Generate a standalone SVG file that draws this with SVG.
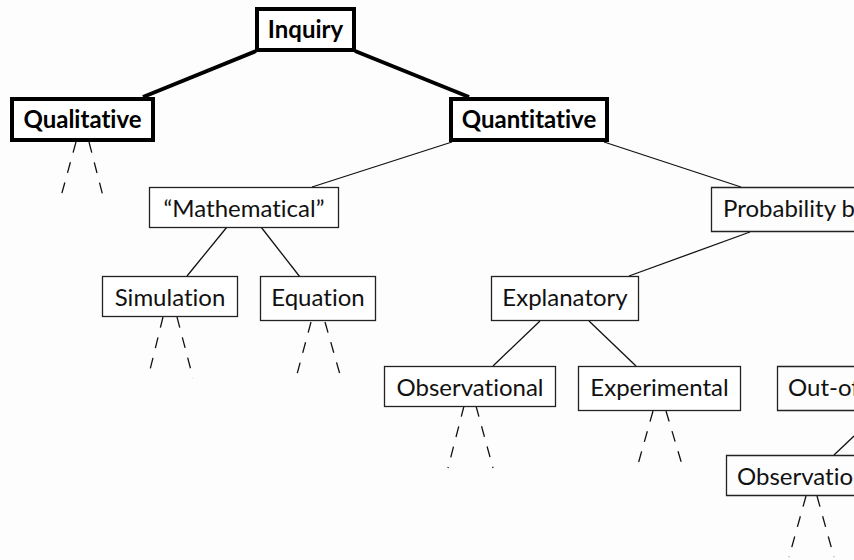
<svg xmlns="http://www.w3.org/2000/svg" width="854" height="560" viewBox="0 0 854 560">
<style>
.bg{fill:#fdfdfd}
.thick{fill:#fff;stroke:#000;stroke-width:4}
.thin{fill:#fff;stroke:#222;stroke-width:1.3}
.open{fill:none;stroke:#222;stroke-width:1.3}
.lt{fill:none;stroke:#000;stroke-width:4}
.ln{fill:none;stroke:#111;stroke-width:1.3}
.dash{fill:none;stroke:#111;stroke-width:1.3;stroke-dasharray:11 10}
text{font-family:Lato,"Open Sans","Liberation Sans",sans-serif;font-size:24px;fill:#111;font-variant-ligatures:none;font-feature-settings:"liga" 0,"clig" 0}
.b{font-weight:bold;fill:#000}
.c{text-anchor:middle}
</style>
<rect class="bg" x="0" y="0" width="854" height="560"/>
<g id="connectors">
<line class="lt" x1="256" y1="51" x2="143" y2="97"/>
<line class="lt" x1="355" y1="51" x2="469" y2="97"/>
<line class="ln" x1="452" y1="142" x2="312" y2="187"/>
<line class="ln" x1="604" y1="142" x2="741" y2="187"/>
<line class="ln" x1="227" y1="227" x2="187" y2="276"/>
<line class="ln" x1="261" y1="227" x2="300" y2="277"/>
<line class="ln" x1="750" y1="232" x2="629" y2="276"/>
<line class="ln" x1="540" y1="321" x2="493" y2="366"/>
<line class="ln" x1="589" y1="321" x2="636" y2="366"/>
<line class="ln" x1="854" y1="436" x2="834" y2="455"/>
<line class="dash" x1="76" y1="142" x2="60" y2="200"/>
<line class="dash" x1="89" y1="142" x2="104" y2="200"/>
<line class="dash" x1="163" y1="317" x2="148" y2="378"/>
<line class="dash" x1="177" y1="317" x2="193" y2="378"/>
<line class="dash" x1="311" y1="322" x2="296" y2="378"/>
<line class="dash" x1="325" y1="322" x2="341" y2="378"/>
<line class="dash" x1="464" y1="406" x2="448" y2="468"/>
<line class="dash" x1="476" y1="406" x2="493" y2="468"/>
<line class="dash" x1="653" y1="411" x2="637" y2="468"/>
<line class="dash" x1="666" y1="411" x2="683" y2="468"/>
<line class="dash" x1="806" y1="496" x2="789" y2="557"/>
<line class="dash" x1="817" y1="496" x2="834" y2="557"/>
</g>
<g id="inquiry"><rect class="thick" x="257" y="9" width="97" height="41"/><text class="b c" x="305.5" y="38">Inquiry</text></g>
<g id="qualitative"><rect class="thick" x="12" y="99" width="141" height="41"/><text class="b c" x="82.5" y="128">Qualitative</text></g>
<g id="quantitative"><rect class="thick" x="451" y="99" width="156" height="41"/><text class="b c" x="529" y="128">Quantitative</text></g>
<g id="mathematical"><rect class="thin" x="149.5" y="187.5" width="189" height="40"/><text class="c" x="244" y="217">“Mathematical”</text></g>
<g id="probability"><path class="open" d="M854 187.5H711.5V231.5H854"/><text x="723" y="217">Probability b</text></g>
<g id="simulation"><rect class="thin" x="102.5" y="276.5" width="135" height="40"/><text class="c" x="170" y="306">Simulation</text></g>
<g id="equation"><rect class="thin" x="260.5" y="276.5" width="115" height="44"/><text class="c" x="318" y="306">Equation</text></g>
<g id="explanatory"><rect class="thin" x="491.5" y="276.5" width="147" height="44"/><text class="c" x="565" y="306">Explanatory</text></g>
<g id="observational"><rect class="thin" x="384.5" y="366.5" width="171" height="40"/><text class="c" x="470" y="396">Observational</text></g>
<g id="experimental"><rect class="thin" x="578.5" y="366.5" width="162" height="44"/><text class="c" x="659.5" y="396">Experimental</text></g>
<g id="out-of"><path class="open" d="M854 366.5H777.5V410.5H854"/><text x="788" y="396">Out-of</text></g>
<g id="observational-2"><path class="open" d="M854 455.5H726.5V495.5H854"/><text x="737" y="485">Observatio</text></g>
</svg>
